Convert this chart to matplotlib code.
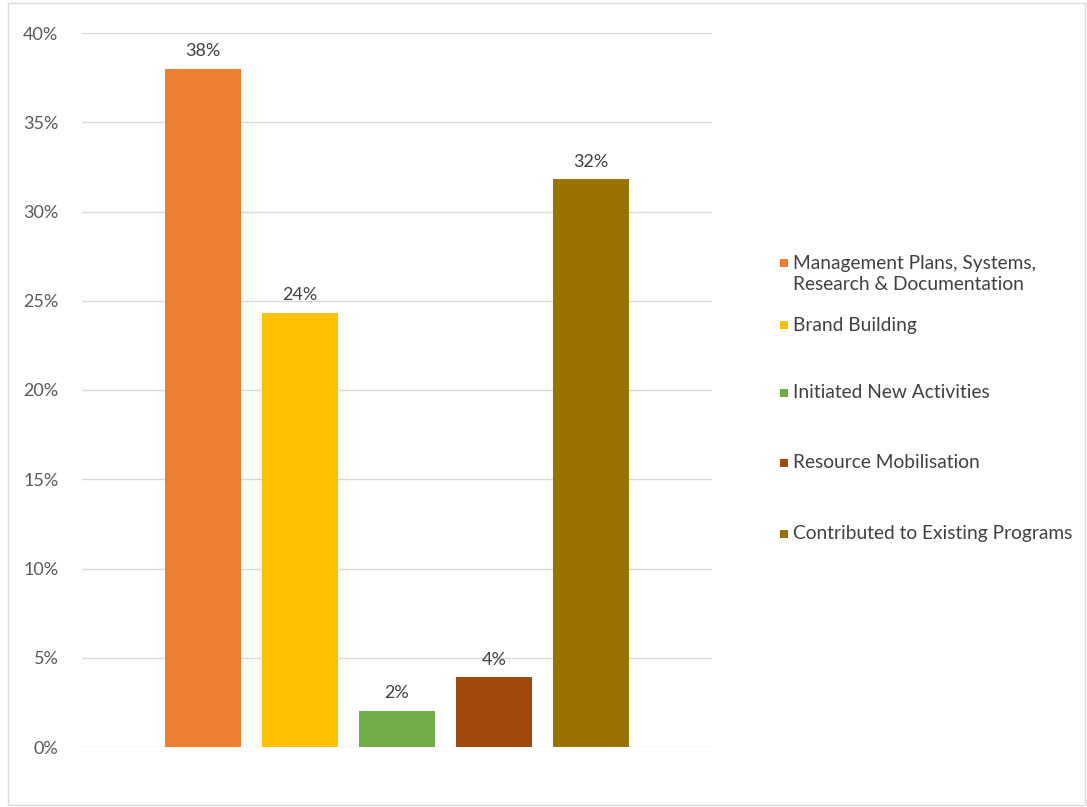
import matplotlib
matplotlib.use("Agg")
import matplotlib.pyplot as plt
from matplotlib.patches import Rectangle
from matplotlib.ticker import PercentFormatter

categories = ["Management Plans, Systems,\nResearch & Documentation",
              "Brand Building",
              "Initiated New Activities",
              "Resource Mobilisation",
              "Contributed to Existing Programs"]
values = [0.380, 0.243, 0.020, 0.039, 0.318]
colors = ["#ED7D31", "#FFC000", "#70AD47", "#9E480E", "#997300"]
yticks = [0, 0.05, 0.10, 0.15, 0.20, 0.25, 0.30, 0.35, 0.40]

plt.rcParams['font.family'] = ['Lato', 'DejaVu Sans']

W, H = 1087, 807
fig = plt.figure(figsize=(W/100, H/100), dpi=100)
ax = fig.add_axes([82/W, 1-747/H, (712-82)/W, (747-33)/H])

for i, (v, c) in enumerate(zip(values, colors)):
    ax.bar(i, v, width=0.78, color=c, zorder=3, label=categories[i])
    ax.text(i, v + 0.0055, f"{v:.0%}", ha="center", va="bottom",
            fontsize=13, color="#404040")

ax.set_xlim(-1.25, 5.25)
ax.set_ylim(0, 0.40)
ax.set_yticks(yticks)
ax.yaxis.set_major_formatter(PercentFormatter(1.0, decimals=0))
ax.set_xticks([])
ax.tick_params(axis="y", length=0, pad=17, labelsize=13, labelcolor="#595959")
ax.grid(axis="y", color="#D9D9D9", linewidth=1, zorder=0)
for s in ax.spines.values():
    s.set_visible(False)

# legend, drawn entry by entry to follow the reference spacing
legend_y = [263, 325, 393, 463, 534]
for lab, c, yp in zip(categories, colors, legend_y):
    fig.patches.append(Rectangle((780/W, 1-(yp+4)/H), 8/W, 8/H,
                                 transform=fig.transFigure,
                                 facecolor=c, edgecolor="none"))
    for k, ln in enumerate(lab.split("\n")):
        fig.text(793/W, 1-(yp + 22*k)/H, ln, ha="left", va="center",
                 fontsize=13.8, color="#404040")

fig.patches.append(Rectangle((8/W, 2/H), 1077/W, 802/H,
                             transform=fig.transFigure, fill=False,
                             edgecolor="#D9D9D9", linewidth=1))

fig.savefig("out.png", dpi=100, facecolor="white")
